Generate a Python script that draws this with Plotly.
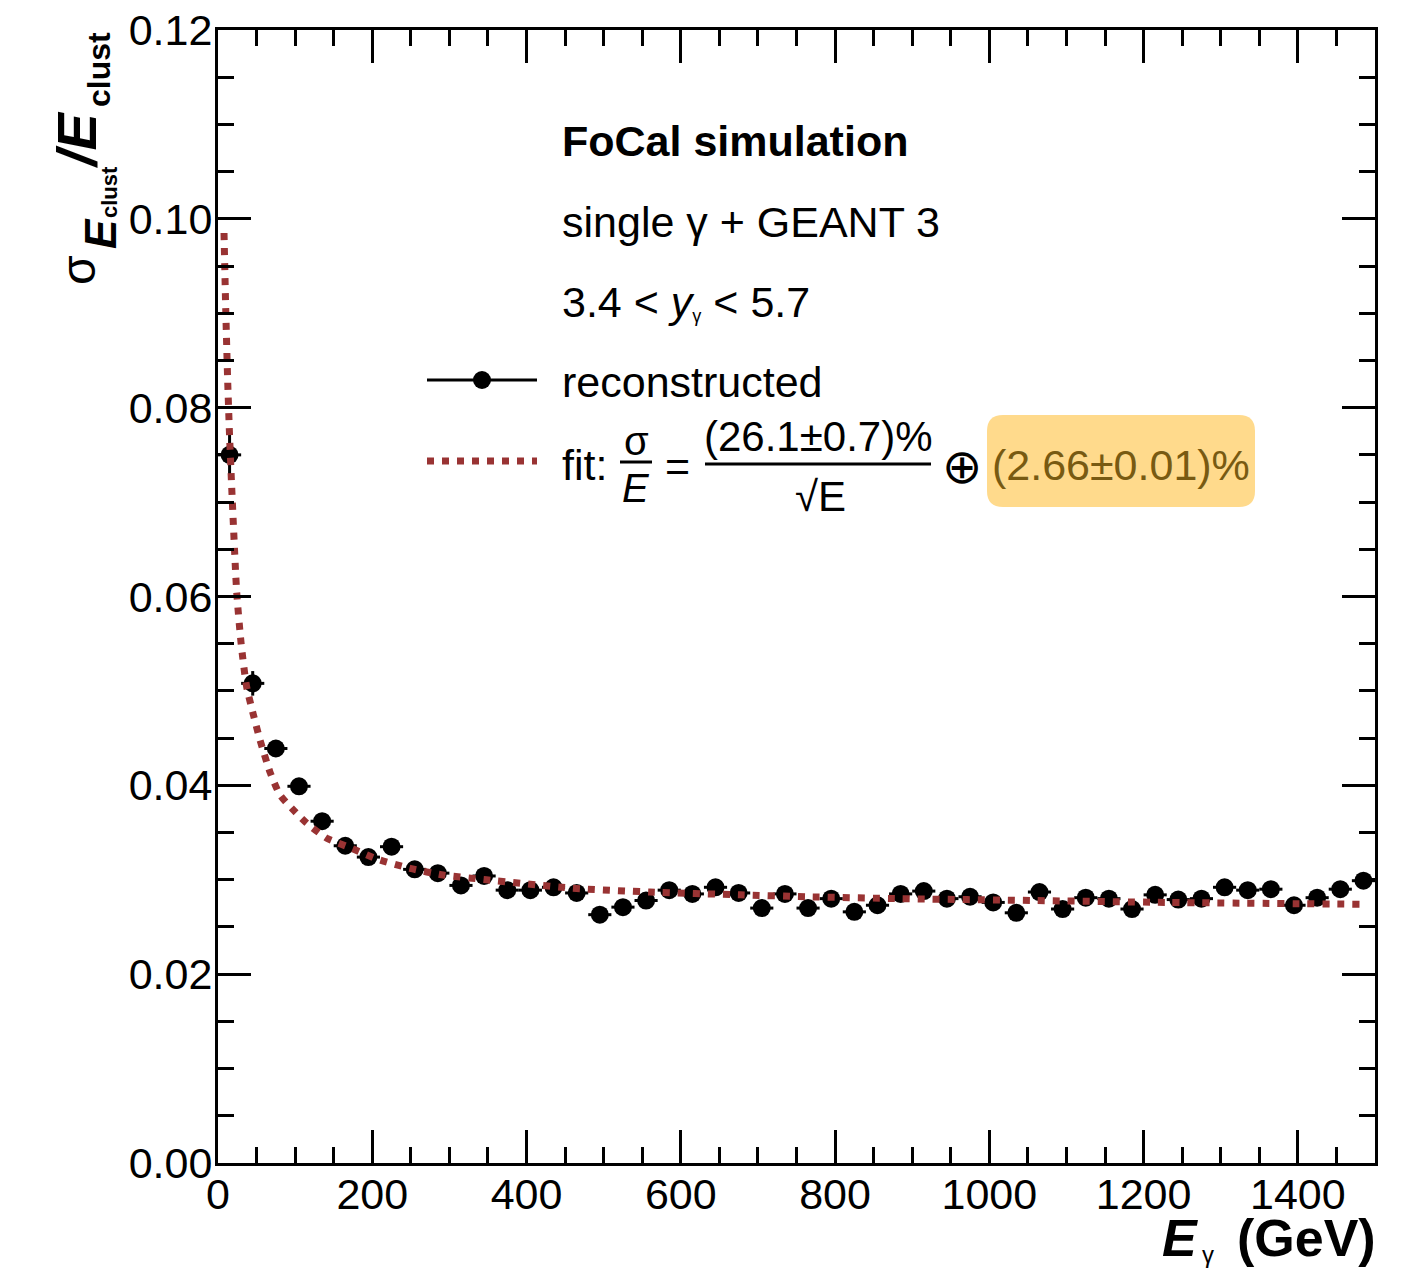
import plotly.graph_objects as go

# ---------------- data ----------------
energy_gev = [15, 45, 75, 105, 135, 165, 195, 225, 255, 285,
              315, 345, 375, 405, 435, 465, 495, 525, 555, 585,
              615, 645, 675, 705, 735, 765, 795, 825, 855, 885,
              915, 945, 975, 1005, 1035, 1065, 1095, 1125, 1155, 1185,
              1215, 1245, 1275, 1305, 1335, 1365, 1395, 1425, 1455, 1485]
bin_half_width = [15] * 50
resolution = [0.0750, 0.0508, 0.0439, 0.0399, 0.0362, 0.0336, 0.0324, 0.0335, 0.0311, 0.0307,
              0.0294, 0.0304, 0.0289, 0.0289, 0.0292, 0.0286, 0.0263, 0.0271, 0.0278, 0.0289,
              0.0285, 0.0292, 0.0286, 0.0270, 0.0285, 0.0270, 0.0280, 0.0266, 0.0273, 0.0285,
              0.0288, 0.0280, 0.0282, 0.0276, 0.0265, 0.0287, 0.0269, 0.0281, 0.0280, 0.0269,
              0.0284, 0.0279, 0.0280, 0.0292, 0.0289, 0.0290, 0.0273, 0.0281, 0.0290, 0.0299]
resolution_err = [0.0024, 0.0013, 0.0008, 0.0006, 0.0005, 0.0004, 0.0004, 0.0004, 0.0003, 0.0003,
                  0.0003, 0.0003, 0.0003, 0.0003, 0.0003, 0.0003, 0.0003, 0.0003, 0.0003, 0.0003,
                  0.0003, 0.0003, 0.0003, 0.0003, 0.0003, 0.0003, 0.0003, 0.0003, 0.0003, 0.0003,
                  0.0003, 0.0003, 0.0003, 0.0003, 0.0003, 0.0003, 0.0003, 0.0003, 0.0003, 0.0003,
                  0.0003, 0.0003, 0.0003, 0.0003, 0.0003, 0.0003, 0.0003, 0.0003, 0.0003, 0.0003]

# fit curve
fit_energy = [7.8, 10, 12.5, 15, 17.8, 20, 24.2, 30, 37, 45.8, 54.5, 67.4, 80.3, 97.6, 115,
              141, 171, 206, 249, 292, 348, 460, 560, 677, 763, 884, 1057, 1230, 1488]
fit_resolution = [0.0985, 0.0905, 0.0830, 0.0770, 0.0715, 0.0675, 0.0605, 0.0550, 0.0505, 0.0475,
                  0.0448, 0.0414, 0.0390, 0.0374, 0.0360, 0.0344, 0.0334, 0.0322, 0.0312, 0.0305,
                  0.0300, 0.0291, 0.0287, 0.0284, 0.0282, 0.0280, 0.0278, 0.0276, 0.0274]

x_ticks = [0, 200, 400, 600, 800, 1000, 1200, 1400]
y_ticks = [0.00, 0.02, 0.04, 0.06, 0.08, 0.10, 0.12]

# ---------------- layout geometry ----------------
W, H = 1424, 1271
L, R, T, B = 218, 1375, 30, 1163
FONT = "Liberation Sans, Arial, Helvetica, sans-serif"
FIT_COLOR = "rgb(153,51,51)"


def px(x):
    return (x - L) / (R - L)


def py(y):
    return (B - y) / (B - T)


fig = go.Figure()

fig.add_trace(go.Scatter(
    x=energy_gev, y=resolution, mode="markers",
    marker=dict(color="black", size=18, symbol="circle"),
    error_x=dict(type="data", array=bin_half_width, color="black", thickness=3, width=0),
    error_y=dict(type="data", array=resolution_err, color="black", thickness=3, width=0),
    showlegend=False, hoverinfo="x+y",
))

fig.add_trace(go.Scatter(
    x=fit_energy, y=fit_resolution, mode="lines",
    line=dict(color=FIT_COLOR, width=7, dash="7px,8px", shape="spline", smoothing=0.6),
    showlegend=False, hoverinfo="skip",
))

annotations = []


def ann(text, x, y, size, xanchor="center", yanchor="middle", color="black", angle=0):
    annotations.append(dict(
        text=text, x=px(x), y=py(y), xref="paper", yref="paper",
        xanchor=xanchor, yanchor=yanchor, showarrow=False, textangle=angle,
        font=dict(family=FONT, size=size, color=color),
    ))


# header texts
ann("<b>FoCal simulation</b>", 560, 141, 43, xanchor="left")
ann("single \u03b3 + GEANT 3", 560, 222, 43, xanchor="left")
ann("3.4 < <i>y</i><span style='font-size:26px'><sub>\u03b3</sub></span> < 5.7", 560, 302, 43, xanchor="left")
ann("reconstructed", 560, 382, 43, xanchor="left")

# fit legend entry
ann("fit:", 560, 465, 43, xanchor="left")
ann("\u03c3", 636, 441, 40)
ann("<i>E</i>", 636, 488, 40)
ann("=", 677, 466, 43)
ann("(26.1\u00b10.7)%", 818, 437, 42)
ann("\u221aE", 820, 496, 42)
ann("\u2295", 962, 466, 48)

shapes = []

# highlight box (rounded)
bx0, by0, bx1, by1, rr = 987, 415, 1255, 507, 16
path = (f"M {px(bx0 + rr)},{py(by0)} L {px(bx1 - rr)},{py(by0)} "
        f"Q {px(bx1)},{py(by0)} {px(bx1)},{py(by0 + rr)} "
        f"L {px(bx1)},{py(by1 - rr)} Q {px(bx1)},{py(by1)} {px(bx1 - rr)},{py(by1)} "
        f"L {px(bx0 + rr)},{py(by1)} Q {px(bx0)},{py(by1)} {px(bx0)},{py(by1 - rr)} "
        f"L {px(bx0)},{py(by0 + rr)} Q {px(bx0)},{py(by0)} {px(bx0 + rr)},{py(by0)} Z")
shapes.append(dict(type="path", path=path, xref="paper", yref="paper",
                   fillcolor="rgb(255,218,140)", line=dict(width=0), layer="below"))
ann("(2.66\u00b10.01)%", 1121, 465, 43, color="rgb(120,90,18)")

# fraction bars
shapes.append(dict(type="line", xref="paper", yref="paper", x0=px(620), x1=px(652), y0=py(462), y1=py(462),
                   line=dict(color="black", width=3)))
shapes.append(dict(type="line", xref="paper", yref="paper", x0=px(705), x1=px(931), y0=py(464), y1=py(464),
                   line=dict(color="black", width=3)))

# legend symbols
shapes.append(dict(type="line", xref="paper", yref="paper", x0=px(427), x1=px(537), y0=py(380), y1=py(380),
                   line=dict(color="black", width=3)))
shapes.append(dict(type="circle", xref="paper", yref="paper", x0=px(473), x1=px(491), y0=py(389), y1=py(371),
                   fillcolor="black", line=dict(color="black", width=0)))
shapes.append(dict(type="line", xref="paper", yref="paper", x0=px(427), x1=px(537), y0=py(461), y1=py(461),
                   line=dict(color=FIT_COLOR, width=7, dash="7px,8px")))

# x axis title (pieces)
ann("<b>(GeV)</b>", 1378, 1238, 52, xanchor="right")
ann("<b><i>E</i></b>", 1200, 1238, 52, xanchor="right")
ann("\u03b3", 1208, 1254, 24)

# y axis title (pieces, rotated)
ann("\u03c3", 78, 270, 48, angle=-90)
ann("<b><i>E</i></b>", 101, 234, 44, angle=-90)
ann("<b>clust</b>", 110, 192, 22, angle=-90)
ann("<b><i>/E</i></b>", 77, 140, 56, angle=-90)
ann("<b>clust</b>", 99, 70, 32, angle=-90)

axis_common = dict(
    showline=True, linewidth=3, linecolor="black", mirror="ticks",
    ticks="inside", ticklen=33, tickwidth=3, tickcolor="black",
    showgrid=False, zeroline=False, automargin=False,
    tickfont=dict(family=FONT, size=43, color="black"),
)

fig.update_layout(
    width=W, height=H,
    margin=dict(l=L, r=W - R, t=T, b=H - B, autoexpand=False),
    paper_bgcolor="white", plot_bgcolor="white",
    xaxis=dict(range=[0, 1500], tickvals=x_ticks, ticktext=[str(v) for v in x_ticks],
               ticklabelstandoff=-9,
               minor=dict(dtick=50, tick0=0, ticks="inside", ticklen=16, tickwidth=3, tickcolor="black"),
               **axis_common),
    yaxis=dict(range=[0, 0.12], tickvals=y_ticks, ticktext=[f"{v:.2f}" for v in y_ticks],
               ticklabelstandoff=-6,
               minor=dict(dtick=0.005, tick0=0, ticks="inside", ticklen=16, tickwidth=3, tickcolor="black"),
               **axis_common),
    annotations=annotations,
    shapes=shapes,
    showlegend=False,
)

fig.write_html("out.html")
